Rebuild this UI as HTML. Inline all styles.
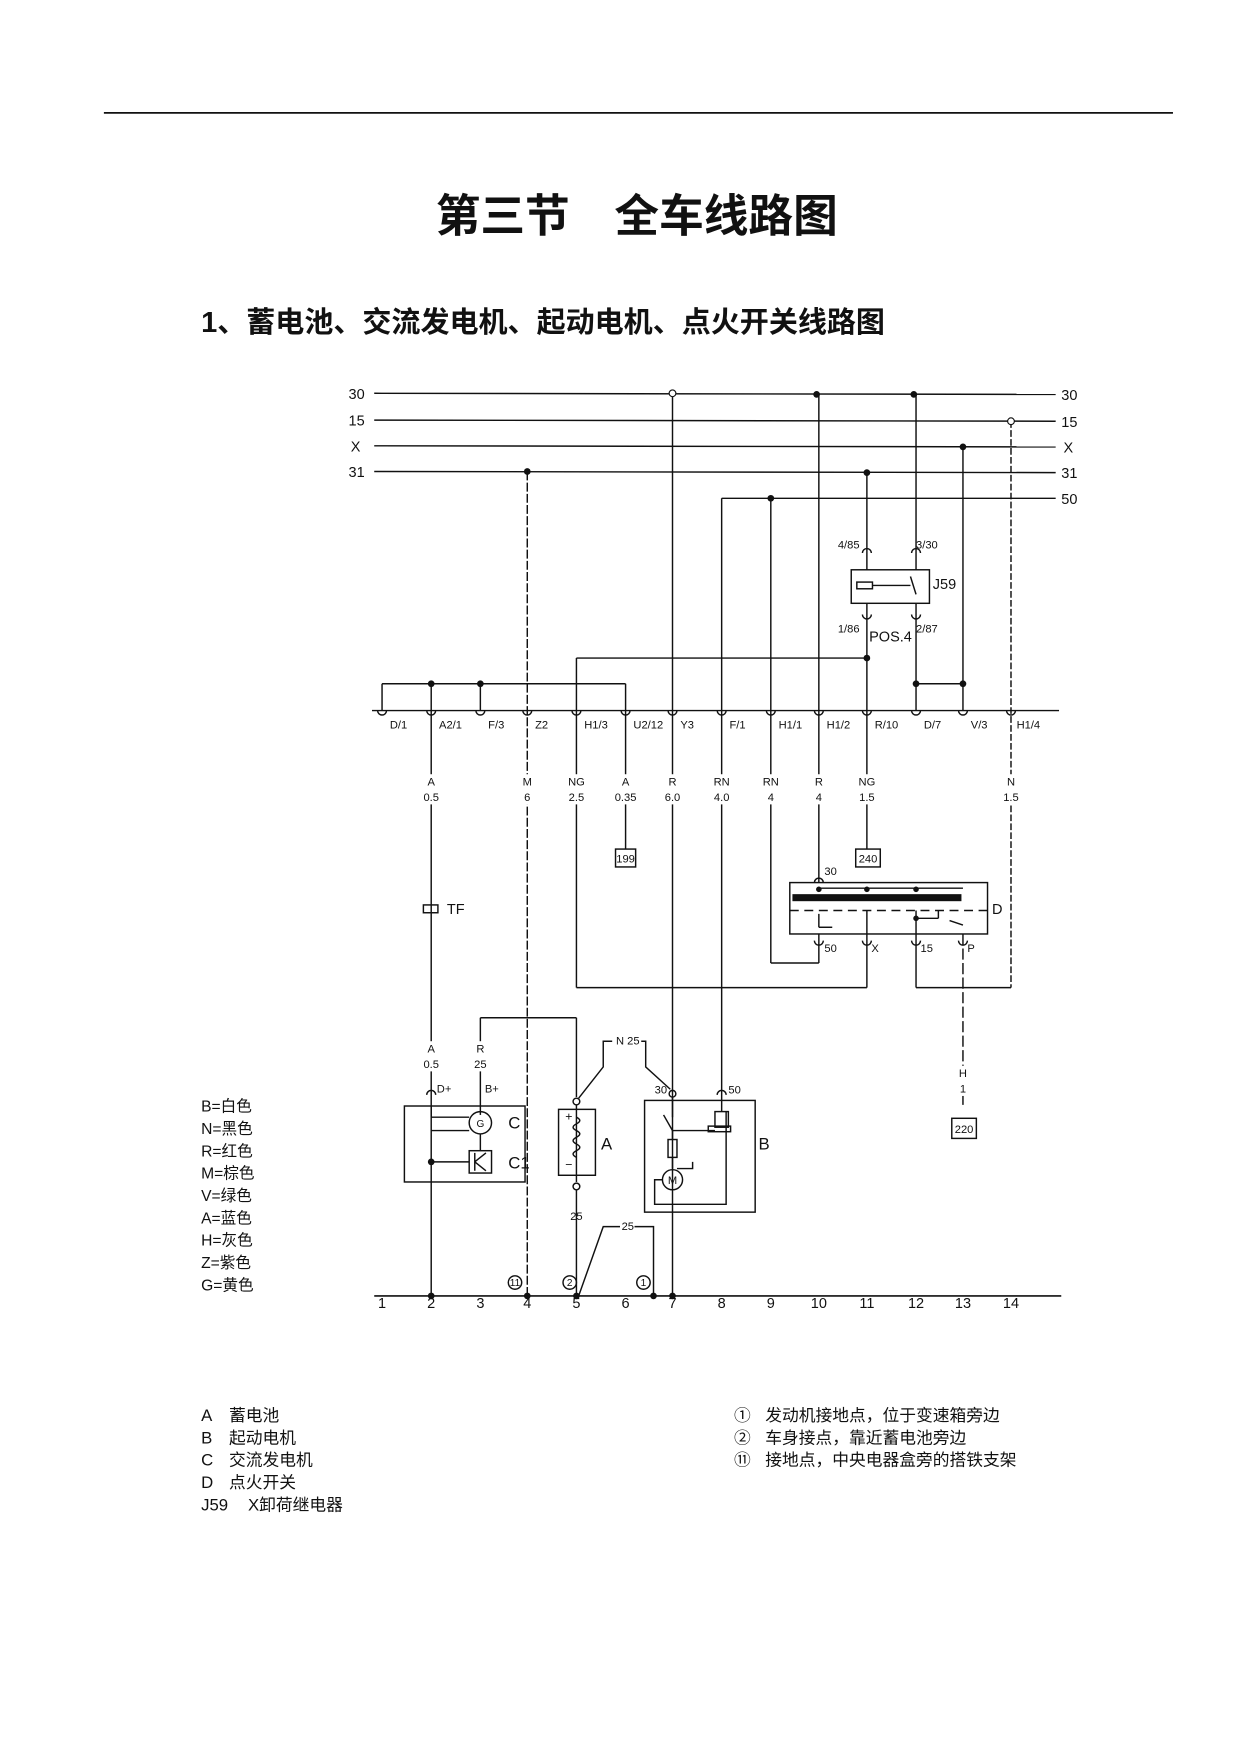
<!DOCTYPE html>
<html><head><meta charset="utf-8"><style>
html,body{margin:0;padding:0;background:#fff}
svg{display:block}
text{font-family:"Liberation Sans","Noto Sans CJK SC",sans-serif;fill:#111}
.s{font-size:10px;font-family:"Liberation Sans Narrow","Liberation Sans",sans-serif}
.m{font-size:13px}
</style></head><body>
<svg width="1240" height="1754" viewBox="0 0 1110 1570" xmlns="http://www.w3.org/2000/svg">
<g stroke="#111" fill="none" stroke-width="1.3">
<line x1="93" y1="101" x2="1050" y2="101" stroke-width="1.5"/>
<line x1="335" y1="352" x2="945" y2="353"/>
<line x1="335" y1="376" x2="945" y2="377"/>
<line x1="335" y1="399" x2="945" y2="400"/>
<line x1="335" y1="422" x2="945" y2="423"/>
<line x1="646" y1="446" x2="945" y2="446"/>
<line x1="333" y1="636" x2="948" y2="636"/>
<line x1="602" y1="352" x2="602" y2="1160"/>
<line x1="733" y1="352" x2="733" y2="790"/>
<line x1="820" y1="352" x2="820" y2="510"/>
<line x1="820" y1="540" x2="820" y2="636"/>
<line x1="905" y1="377" x2="905" y2="884" stroke-dasharray="6,2"/>
<line x1="862" y1="399" x2="862" y2="636"/>
<line x1="776" y1="422" x2="776" y2="510"/>
<line x1="776" y1="540" x2="776" y2="636"/>
<line x1="472" y1="422" x2="472" y2="1160" stroke-dasharray="8,2"/>
<line x1="646" y1="446" x2="646" y2="985"/>
<line x1="690" y1="446" x2="690" y2="862"/>
<line x1="516" y1="589" x2="776" y2="589"/>
<line x1="516" y1="589" x2="516" y2="884"/>
<line x1="342" y1="612" x2="560" y2="612"/>
<line x1="342" y1="612" x2="342" y2="636"/>
<line x1="386" y1="612" x2="386" y2="1160"/>
<line x1="430" y1="612" x2="430" y2="636"/>
<line x1="560" y1="612" x2="560" y2="760"/>
<line x1="820" y1="612" x2="862" y2="612"/>
<line x1="776" y1="636" x2="776" y2="760"/>
<rect x="762" y="510" width="70" height="30"/>
<rect x="767" y="521" width="14" height="6"/>
<line x1="781" y1="524" x2="815" y2="524"/>
<line x1="815" y1="516" x2="820" y2="532"/>
<rect x="707" y="790" width="177" height="46"/>
<line x1="707" y1="815" x2="884" y2="815" stroke-dasharray="8,5"/>
<line x1="733" y1="795" x2="862" y2="795"/>
<rect x="710" y="801" width="150" height="5" fill="#111"/>
<line x1="733" y1="836" x2="733" y2="862"/><line x1="690" y1="862" x2="733" y2="862"/>
<line x1="776" y1="815" x2="776" y2="884"/><line x1="516" y1="884" x2="776" y2="884"/>
<line x1="820" y1="815" x2="820" y2="884"/><line x1="820" y1="884" x2="905" y2="884"/>
<line x1="862" y1="836" x2="862" y2="990" stroke-dasharray="10,3"/>
<line x1="733" y1="818" x2="733" y2="830"/><line x1="733" y1="830" x2="745" y2="830"/>
<line x1="820" y1="822" x2="840" y2="822"/><line x1="840" y1="815" x2="840" y2="822"/>
<line x1="850" y1="824" x2="862" y2="828"/>
<rect x="551" y="760" width="18" height="16"/>
<rect x="766" y="760" width="22" height="16"/>
<rect x="852" y="1001" width="22" height="18"/>
<rect x="379" y="810" width="13" height="7"/>
<line x1="430" y1="911" x2="516" y2="911"/><line x1="430" y1="911" x2="430" y2="998"/>
<line x1="516" y1="911" x2="516" y2="982"/>
<rect x="362" y="990" width="108" height="68"/>
<line x1="386" y1="990" x2="386" y2="1000"/><line x1="386" y1="1000" x2="420" y2="1000"/>
<circle cx="430" cy="1005" r="10"/>
<line x1="386" y1="1012" x2="420" y2="1012"/>
<line x1="430" y1="1015" x2="430" y2="1030"/>
<rect x="420" y="1030" width="20" height="20"/>
<path d="M425 1040 L435 1032 M425 1040 L435 1048 M425 1032 L425 1048"/>
<line x1="386" y1="1040" x2="420" y2="1040"/>
<circle cx="516" cy="986" r="3"/>
<rect x="500" y="993" width="33" height="59"/>
<line x1="516" y1="989" x2="516" y2="1058"/>
<path d="M516 1000 q6 3 0 6 q-6 3 0 6 q6 3 0 6 q-6 3 0 6 q6 3 0 6 q-6 3 0 6"/>
<circle cx="516" cy="1062" r="3"/>
<line x1="516" y1="1065" x2="516" y2="1160"/>
<path d="M518 983 L540 955 L540 932 L548 932"/>
<path d="M574 932 L578 932 L578 955 L600 975"/>
<rect x="577" y="985" width="99" height="100"/>
<circle cx="602" cy="979" r="3"/>
<line x1="602" y1="982" x2="602" y2="1000"/>
<line x1="594" y1="998" x2="602" y2="1012"/>
<line x1="602" y1="1012" x2="640" y2="1012"/>
<line x1="602" y1="1012" x2="602" y2="1020"/>
<rect x="598" y="1020" width="8" height="16"/>
<line x1="602" y1="1036" x2="602" y2="1046"/>
<path d="M606 1046 L620 1046 L620 1040"/>
<circle cx="602" cy="1056" r="9"/>
<path d="M593 1056 L586 1056 L586 1078 L650 1078 L650 995"/>
<rect x="640" y="995" width="12" height="14"/>
<rect x="634" y="1008" width="20" height="5"/>
<line x1="646" y1="985" x2="646" y2="995"/>
<path d="M518 1160 L540 1098 L555 1098"/>
<path d="M568 1098 L585 1098 L585 1160"/>
<line x1="335" y1="1160" x2="950" y2="1160" stroke-width="1.5"/>
<path d="M338 636 a4 4 0 0 0 8 0"/><path d="M382 636 a4 4 0 0 0 8 0"/><path d="M426 636 a4 4 0 0 0 8 0"/><path d="M468 636 a4 4 0 0 0 8 0"/><path d="M512 636 a4 4 0 0 0 8 0"/><path d="M556 636 a4 4 0 0 0 8 0"/><path d="M598 636 a4 4 0 0 0 8 0"/><path d="M642 636 a4 4 0 0 0 8 0"/><path d="M686 636 a4 4 0 0 0 8 0"/><path d="M729 636 a4 4 0 0 0 8 0"/><path d="M772 636 a4 4 0 0 0 8 0"/><path d="M816 636 a4 4 0 0 0 8 0"/><path d="M858 636 a4 4 0 0 0 8 0"/><path d="M901 636 a4 4 0 0 0 8 0"/>
<path d="M772 495 a4 4 0 0 1 8 0"/><path d="M816 495 a4 4 0 0 1 8 0"/>
<path d="M772 550 a4 4 0 0 0 8 0"/><path d="M816 550 a4 4 0 0 0 8 0"/>
<path d="M729 790 a4 4 0 0 1 8 0"/>
<path d="M729 842 a4 4 0 0 0 8 0"/><path d="M772 842 a4 4 0 0 0 8 0"/><path d="M816 842 a4 4 0 0 0 8 0"/><path d="M858 842 a4 4 0 0 0 8 0"/>
<path d="M382 980 a4 4 0 0 1 8 0"/><path d="M642 980 a4 4 0 0 1 8 0"/>
<circle cx="461" cy="1148" r="6"/><circle cx="510" cy="1148" r="6"/><circle cx="576" cy="1148" r="6"/>
</g>
<g fill="#111">
<circle cx="731" cy="353" r="3"/><circle cx="818" cy="353" r="3"/>
<circle cx="472" cy="422" r="3"/><circle cx="776" cy="423" r="3"/><circle cx="862" cy="400" r="3"/>
<circle cx="690" cy="446" r="3"/><circle cx="776" cy="589" r="3"/>
<circle cx="386" cy="612" r="3"/><circle cx="430" cy="612" r="3"/>
<circle cx="820" cy="612" r="3"/><circle cx="862" cy="612" r="3"/>
<circle cx="386" cy="1040" r="3"/>
<circle cx="386" cy="1160" r="3"/><circle cx="472" cy="1160" r="3"/><circle cx="516" cy="1160" r="3"/><circle cx="585" cy="1160" r="3"/><circle cx="602" cy="1160" r="3"/>
<circle cx="733" cy="796" r="2.5"/><circle cx="776" cy="796" r="2.5"/><circle cx="820" cy="796" r="2.5"/><circle cx="820" cy="822" r="2.5"/>
</g>
<circle cx="602" cy="352" r="3" fill="#fff" stroke="#111"/>
<circle cx="905" cy="377" r="3" fill="#fff" stroke="#111"/>
<g fill="#fff">
<rect x="376" y="693" width="20" height="27"/><rect x="462" y="693" width="20" height="27"/><rect x="505" y="693" width="22" height="27"/><rect x="548" y="693" width="24" height="27"/><rect x="591" y="693" width="22" height="27"/><rect x="635" y="693" width="22" height="27"/><rect x="679" y="693" width="22" height="27"/><rect x="723" y="693" width="20" height="27"/><rect x="765" y="693" width="22" height="27"/><rect x="895" y="693" width="20" height="27"/>
<rect x="376" y="932" width="20" height="27"/><rect x="420" y="932" width="20" height="27"/><rect x="852" y="954" width="20" height="27"/>
</g>

<text x="570" y="207" text-anchor="middle" style="font-size:40px;font-weight:bold">第三节　全车线路图</text>
<text x="180" y="297" style="font-size:26px;font-weight:bold">1、蓄电池、交流发电机、起动电机、点火开关线路图</text>

<g class="m">
<text x="312" y="357">30</text><text x="312" y="381">15</text><text x="314" y="404">X</text><text x="312" y="427">31</text>
<text x="950" y="358">30</text><text x="950" y="382">15</text><text x="952" y="405">X</text><text x="950" y="428">31</text><text x="950" y="451">50</text>
</g>
<g class="s">
<text x="349" y="652">D/1</text><text x="393" y="652">A2/1</text><text x="437" y="652">F/3</text><text x="479" y="652">Z2</text><text x="523" y="652">H1/3</text><text x="567" y="652">U2/12</text><text x="609" y="652">Y3</text><text x="653" y="652">F/1</text><text x="697" y="652">H1/1</text><text x="740" y="652">H1/2</text><text x="783" y="652">R/10</text><text x="827" y="652">D/7</text><text x="869" y="652">V/3</text><text x="910" y="652" fill="#777">H1/4</text>
</g>
<g class="s" text-anchor="middle">
<text x="386" y="703">A</text><text x="386" y="717">0.5</text>
<text x="472" y="703">M</text><text x="472" y="717">6</text>
<text x="516" y="703">NG</text><text x="516" y="717">2.5</text>
<text x="560" y="703">A</text><text x="560" y="717">0.35</text>
<text x="602" y="703">R</text><text x="602" y="717">6.0</text>
<text x="646" y="703">RN</text><text x="646" y="717">4.0</text>
<text x="690" y="703">RN</text><text x="690" y="717">4</text>
<text x="733" y="703">R</text><text x="733" y="717">4</text>
<text x="776" y="703">NG</text><text x="776" y="717">1.5</text>
<text x="905" y="703">N</text><text x="905" y="717">1.5</text>
<text x="560" y="772">199</text><text x="777" y="772">240</text><text x="863" y="1014">220</text>
<text x="386" y="942">A</text><text x="386" y="956">0.5</text>
<text x="430" y="942">R</text><text x="430" y="956">25</text>
<text x="862" y="964">H</text><text x="862" y="978">1</text>
<text x="516" y="1092">25</text><text x="562" y="1101">25</text><text x="562" y="935">N 25</text>
</g>
<g class="s">
<text x="750" y="491">4/85</text><text x="820" y="491">3/30</text>
<text x="750" y="566">1/86</text><text x="820" y="566">2/87</text>
<text x="738" y="783">30</text>
<text x="738" y="852">50</text><text x="780" y="852">X</text><text x="824" y="852">15</text><text x="866" y="852">P</text>
<text x="391" y="978">D+</text><text x="434" y="978">B+</text>
<text x="586" y="979">30</text><text x="652" y="979">50</text>
</g>
<text x="778" y="574" style="font-size:13px">POS.4</text>
<text x="835" y="527" class="m">J59</text>
<text x="888" y="818" class="m">D</text>
<text x="400" y="818" class="m">TF</text>
<text x="455" y="1010" style="font-size:15px">C</text><text x="455" y="1046" style="font-size:15px">C1</text>
<text x="538" y="1029" style="font-size:15px">A</text>
<text x="679" y="1029" style="font-size:15px">B</text>
<text x="506" y="1003" style="font-size:11px">+</text><text x="506" y="1046" style="font-size:11px">−</text>
<text x="602" y="1060" text-anchor="middle" style="font-size:10px">M</text>
<text x="430" y="1009" text-anchor="middle" style="font-size:9px">G</text>
<g style="font-size:9px" text-anchor="middle">
<text x="461" y="1151">11</text><text x="510" y="1151">2</text><text x="576" y="1151">1</text>
</g>
<g class="m" text-anchor="middle">
<text x="342" y="1171">1</text><text x="386" y="1171">2</text><text x="430" y="1171">3</text><text x="472" y="1171">4</text><text x="516" y="1171">5</text><text x="560" y="1171">6</text><text x="602" y="1171">7</text><text x="646" y="1171">8</text><text x="690" y="1171">9</text><text x="733" y="1171">10</text><text x="776" y="1171">11</text><text x="820" y="1171">12</text><text x="862" y="1171">13</text><text x="905" y="1171">14</text>
</g>
<g style="font-size:14px">
<text x="180" y="995">B=白色</text><text x="180" y="1015">N=黑色</text><text x="180" y="1035">R=红色</text><text x="180" y="1055">M=棕色</text><text x="180" y="1075">V=绿色</text><text x="180" y="1095">A=蓝色</text><text x="180" y="1115">H=灰色</text><text x="180" y="1135">Z=紫色</text><text x="180" y="1155">G=黄色</text>
</g>
<g style="font-size:15px">
<text x="180" y="1272">A</text><text x="205" y="1272">蓄电池</text>
<text x="180" y="1292">B</text><text x="205" y="1292">起动电机</text>
<text x="180" y="1312">C</text><text x="205" y="1312">交流发电机</text>
<text x="180" y="1332">D</text><text x="205" y="1332">点火开关</text>
<text x="180" y="1352">J59</text><text x="222" y="1352">X卸荷继电器</text>
<text x="657" y="1272">①</text><text x="685" y="1272">发动机接地点，位于变速箱旁边</text>
<text x="657" y="1292">②</text><text x="685" y="1292">车身接点，靠近蓄电池旁边</text>
<text x="657" y="1312">⑪</text><text x="685" y="1312">接地点，中央电器盒旁的搭铁支架</text>
</g>
</svg>
</body></html>
